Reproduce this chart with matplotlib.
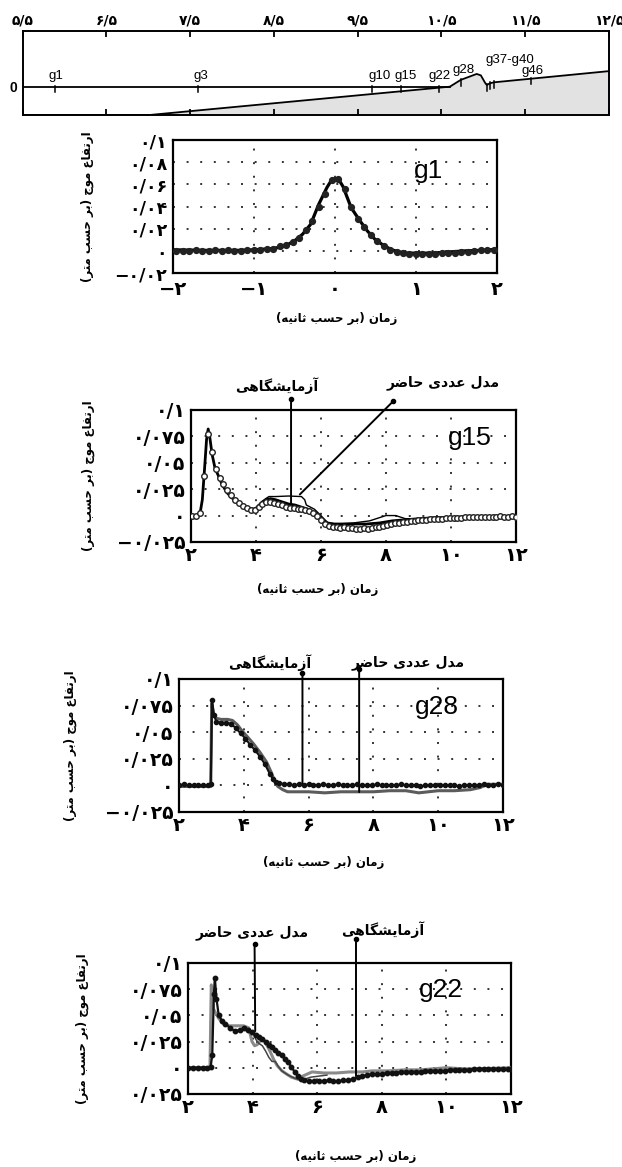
import numpy as np
import matplotlib
matplotlib.use('Agg')
import matplotlib.pyplot as plt

# --- profile (top strip) ---
prof_ticks = [5.5, 6.5, 7.5, 8.5, 9.5, 10.5, 11.5, 12.5]
prof_labels = ['۵/۵', '۶/۵', '۷/۵', '۸/۵', '۹/۵', '۱۰/۵', '۱۱/۵', '۱۲/۵']
bathy_x = [5.5, 7.02, 10.6, 10.73, 10.92, 10.97, 11.02, 11.04, 11.08, 11.13, 12.5]
bathy_y = [-1.0, -1.0, 0.0, 0.24, 0.45, 0.40, 0.14, 0.06, 0.12, 0.155, 0.55]
gauge_x = [5.885, 7.59, 9.67, 10.02, 10.47, 10.73, 11.04, 11.08, 11.13, 11.57]
gauge_names = ['g1', 'g3', 'g10', 'g15', 'g22', 'g28', 'g37-g40', 'g46']
gauge_label_x = [5.9, 7.63, 9.76, 10.07, 10.48, 10.76, 11.32, 11.59]
gauge_label_y = [0.38, 0.38, 0.38, 0.38, 0.38, 0.59, 0.96, 0.57]

# --- g1 ---
g1_model = [(-2.0, 0.001), (-1.6, 0.0005), (-1.2, 0.0005), (-1.0, 0.001), (-0.8, 0.002),
            (-0.7, 0.003), (-0.6, 0.005), (-0.5, 0.009), (-0.4, 0.015), (-0.3, 0.024),
            (-0.2, 0.042), (-0.1, 0.057), (-0.05, 0.063), (0.0, 0.065), (0.05, 0.064),
            (0.1, 0.058), (0.2, 0.039), (0.3, 0.028), (0.4, 0.018), (0.5, 0.010),
            (0.6, 0.005), (0.7, 0.001), (0.8, -0.001), (0.9, -0.002), (1.0, -0.002),
            (1.2, -0.002), (1.4, -0.001), (1.6, 0.0), (1.8, 0.0005), (2.0, 0.0015)]
g1_lab = [(-1.96, 0.000), (-1.88, 0.000), (-1.80, 0.000), (-1.72, 0.001), (-1.64, 0.000),
          (-1.56, 0.000), (-1.48, 0.001), (-1.40, 0.000), (-1.32, 0.001), (-1.24, 0.000),
          (-1.16, 0.000), (-1.08, 0.001), (-1.00, 0.001), (-0.92, 0.001), (-0.84, 0.002),
          (-0.76, 0.002), (-0.68, 0.004), (-0.60, 0.005), (-0.52, 0.008), (-0.44, 0.012),
          (-0.36, 0.019), (-0.28, 0.027), (-0.20, 0.040), (-0.12, 0.051), (-0.04, 0.064),
          (0.04, 0.065), (0.12, 0.056), (0.20, 0.040), (0.28, 0.029), (0.36, 0.022),
          (0.44, 0.014), (0.52, 0.009), (0.60, 0.004), (0.68, 0.001), (0.76, -0.001),
          (0.84, -0.002), (0.92, -0.003), (1.00, -0.003), (1.08, -0.003), (1.16, -0.003),
          (1.24, -0.003), (1.32, -0.002), (1.40, -0.002), (1.48, -0.002), (1.56, -0.001),
          (1.64, -0.001), (1.72, 0.000), (1.80, 0.001), (1.88, 0.001), (1.96, 0.001)]

# --- g15 ---
g15_thick = [(2.0, 0.0), (2.2, 0.0), (2.28, 0.002), (2.35, 0.015), (2.42, 0.045), (2.48, 0.072),
             (2.53, 0.082), (2.58, 0.074), (2.65, 0.058), (2.74, 0.045), (2.84, 0.038),
             (2.95, 0.030), (3.1, 0.022), (3.25, 0.017), (3.45, 0.012), (3.66, 0.008),
             (3.8, 0.007), (3.92, 0.006), (4.0, 0.007), (4.1, 0.010), (4.2, 0.013),
             (4.3, 0.015), (4.45, 0.016), (4.6, 0.015), (4.8, 0.013), (5.0, 0.011),
             (5.2, 0.010), (5.4, 0.008), (5.6, 0.006), (5.8, 0.003), (6.0, -0.002),
             (6.2, -0.007), (6.4, -0.008), (6.7, -0.008), (7.0, -0.008), (7.4, -0.008),
             (7.8, -0.007), (8.2, -0.005), (8.6, -0.004), (9.0, -0.003), (9.5, -0.002),
             (10.0, -0.002), (10.5, -0.001), (11.0, -0.001), (11.5, -0.001), (12.0, -0.001)]
g15_model = [(3.92, 0.006), (4.0, 0.007), (4.1, 0.010), (4.2, 0.013), (4.3, 0.016), (4.4, 0.018),
             (4.6, 0.018), (5.0, 0.0185), (5.4, 0.018), (5.5, 0.015), (5.55, 0.010),
             (5.8, 0.006), (6.0, 0.0), (6.2, -0.007), (6.5, -0.008), (7.0, -0.007),
             (7.5, -0.005), (7.8, -0.002), (8.0, 0.0), (8.3, 0.0), (8.6, -0.003),
             (9.0, -0.003), (9.5, -0.002), (10.0, -0.001), (11.0, -0.001), (12.0, 0.0)]
g15_lab = [(2.04, 0.000), (2.16, 0.000), (2.28, 0.002), (2.40, 0.037), (2.52, 0.077), (2.64, 0.060),
           (2.76, 0.044), (2.88, 0.036), (3.00, 0.030), (3.12, 0.024), (3.24, 0.019), (3.36, 0.015),
           (3.48, 0.012), (3.60, 0.009), (3.72, 0.007), (3.84, 0.005), (3.96, 0.005), (4.08, 0.008),
           (4.20, 0.011), (4.32, 0.013), (4.44, 0.013), (4.56, 0.012), (4.68, 0.011), (4.80, 0.010),
           (4.92, 0.008), (5.04, 0.007), (5.16, 0.007), (5.28, 0.006), (5.40, 0.006), (5.52, 0.005),
           (5.64, 0.004), (5.76, 0.002), (5.88, 0.000), (6.00, -0.004), (6.12, -0.008), (6.24, -0.010),
           (6.36, -0.011), (6.48, -0.011), (6.60, -0.012), (6.72, -0.011), (6.84, -0.012), (6.96, -0.012),
           (7.08, -0.013), (7.20, -0.013), (7.32, -0.012), (7.44, -0.013), (7.56, -0.012), (7.68, -0.011),
           (7.80, -0.011), (7.92, -0.010), (8.04, -0.009), (8.16, -0.008), (8.28, -0.007), (8.40, -0.007),
           (8.52, -0.006), (8.64, -0.006), (8.76, -0.005), (8.88, -0.005), (9.00, -0.004), (9.12, -0.004),
           (9.24, -0.004), (9.36, -0.003), (9.48, -0.003), (9.60, -0.003), (9.72, -0.003), (9.84, -0.002),
           (9.96, -0.002), (10.08, -0.002), (10.20, -0.002), (10.32, -0.002), (10.44, -0.001), (10.56, -0.001),
           (10.68, -0.001), (10.80, -0.001), (10.92, -0.001), (11.04, -0.001), (11.16, -0.001), (11.28, -0.001),
           (11.40, -0.001), (11.52, 0.000), (11.64, -0.001), (11.76, -0.001), (11.88, 0.000), (12.00, -0.001)]

# --- g28 ---
g28_lab = [(2.0, 0.000), (2.15, 0.001), (2.3, 0.000), (2.45, 0.000), (2.6, 0.000), (2.75, 0.000),
           (2.9, 0.000), (2.98, 0.001), (3.02, 0.080), (3.08, 0.066), (3.15, 0.060), (3.3, 0.059),
           (3.45, 0.059), (3.6, 0.058), (3.75, 0.054), (3.9, 0.049), (4.05, 0.044), (4.2, 0.038),
           (4.35, 0.033), (4.5, 0.027), (4.65, 0.020), (4.8, 0.011), (4.9, 0.006), (5.0, 0.003),
           (5.1, 0.002), (5.25, 0.001), (5.4, 0.001), (5.55, 0.000), (5.7, 0.001), (5.85, 0.000),
           (6.0, 0.001), (6.15, 0.000), (6.3, 0.000), (6.45, 0.001), (6.6, 0.000), (6.75, 0.000),
           (6.9, 0.001), (7.05, 0.000), (7.2, 0.000), (7.35, 0.000), (7.5, 0.001), (7.65, 0.000),
           (7.8, 0.000), (7.95, 0.000), (8.1, 0.001), (8.25, 0.000), (8.4, 0.000), (8.55, 0.000),
           (8.7, 0.000), (8.85, 0.001), (9.0, 0.000), (9.15, 0.000), (9.3, 0.000), (9.45, -0.001),
           (9.6, 0.000), (9.75, 0.000), (9.9, 0.000), (10.05, 0.000), (10.2, 0.000), (10.35, 0.000),
           (10.5, 0.000), (10.65, -0.001), (10.8, 0.000), (10.95, 0.000), (11.1, 0.000), (11.25, 0.000),
           (11.4, 0.001), (11.55, 0.000), (11.7, 0.000), (11.85, 0.001), (12.0, 0.000)]
g28_model = [(2.0, -0.001), (2.5, -0.001), (2.98, -0.001), (3.01, 0.077), (3.07, 0.066), (3.15, 0.063),
             (3.3, 0.062), (3.5, 0.062), (3.65, 0.061), (3.8, 0.057), (3.95, 0.051), (4.1, 0.046),
             (4.3, 0.039), (4.5, 0.031), (4.7, 0.022), (4.85, 0.012), (4.95, 0.004), (5.05, -0.001),
             (5.2, -0.004), (5.35, -0.006), (5.6, -0.006), (6.0, -0.006), (6.5, -0.007), (7.0, -0.006),
             (7.5, -0.006), (8.0, -0.006), (8.5, -0.005), (9.0, -0.005), (9.4, -0.007), (9.7, -0.006),
             (10.0, -0.005), (10.5, -0.005), (11.0, -0.004), (11.3, -0.002), (11.5, 0.001), (12.0, 0.001)]

# --- g22 ---
g22_lab = [(2.0, 0.000), (2.15, 0.000), (2.3, 0.000), (2.45, 0.000), (2.6, 0.000), (2.7, 0.001),
           (2.75, 0.012), (2.8, 0.070), (2.83, 0.086), (2.88, 0.066), (2.95, 0.050), (3.05, 0.045),
           (3.15, 0.042), (3.3, 0.038), (3.45, 0.035), (3.6, 0.036), (3.72, 0.038), (3.85, 0.036),
           (3.98, 0.034), (4.1, 0.031), (4.2, 0.029), (4.3, 0.027), (4.4, 0.025), (4.5, 0.022),
           (4.6, 0.020), (4.7, 0.017), (4.8, 0.014), (4.9, 0.012), (5.0, 0.008), (5.1, 0.005),
           (5.2, 0.001), (5.3, -0.004), (5.4, -0.008), (5.5, -0.011), (5.6, -0.012), (5.75, -0.013),
           (5.9, -0.013), (6.05, -0.013), (6.2, -0.013), (6.35, -0.012), (6.5, -0.013), (6.65, -0.013),
           (6.8, -0.012), (6.95, -0.012), (7.1, -0.011), (7.25, -0.009), (7.4, -0.008), (7.55, -0.007),
           (7.7, -0.006), (7.85, -0.006), (8.0, -0.006), (8.15, -0.005), (8.3, -0.005), (8.45, -0.005),
           (8.6, -0.004), (8.75, -0.004), (8.9, -0.004), (9.05, -0.004), (9.2, -0.004), (9.35, -0.003),
           (9.5, -0.003), (9.65, -0.003), (9.8, -0.003), (9.95, -0.003), (10.1, -0.002), (10.25, -0.002),
           (10.4, -0.002), (10.55, -0.002), (10.7, -0.002), (10.85, -0.001), (11.0, -0.001), (11.15, -0.001),
           (11.3, -0.001), (11.45, -0.001), (11.6, -0.001), (11.75, -0.001), (11.9, -0.001), (12.0, -0.001)]
g22_model = [(2.0, 0.0), (2.68, 0.0), (2.72, 0.079), (2.79, 0.056), (2.95, 0.047), (3.1, 0.042),
             (3.26, 0.040), (3.5, 0.040), (3.72, 0.040), (3.88, 0.038), (3.98, 0.025), (4.06, 0.021),
             (4.14, 0.022), (4.25, 0.026), (4.34, 0.027), (4.45, 0.021), (4.55, 0.015), (4.65, 0.008),
             (4.76, 0.002), (4.91, -0.003), (5.05, -0.006), (5.2, -0.009), (5.4, -0.011), (5.55, -0.008),
             (5.84, -0.004), (6.2, -0.005), (6.6, -0.005), (7.0, -0.004), (7.4, -0.004), (7.7, -0.003),
             (8.2, -0.003), (8.7, -0.002), (9.2, -0.002), (9.6, -0.001), (10.0, 0.000), (10.5, -0.001),
             (11.0, -0.001), (12.0, 0.0)]
g22_other = [(3.88, 0.037), (4.0, 0.033), (4.1, 0.027), (4.2, 0.023), (4.3, 0.021), (4.4, 0.016),
             (4.5, 0.010), (4.6, 0.006), (4.7, 0.006), (4.8, 0.001), (4.9, -0.003), (5.1, -0.007),
             (5.3, -0.010), (5.5, -0.012), (5.8, -0.009), (6.3, -0.007)]

x_ticks = [2, 4, 6, 8, 10, 12]
x_labels = ['۲', '۴', '۶', '۸', '۱۰', '۱۲']
g1_xticks = [-2, -1, 0, 1, 2]
g1_xlabels = ['−۲', '−۱', '۰', '۱', '۲']
g1_yticks = [-0.02, 0, 0.02, 0.04, 0.06, 0.08, 0.1]
g1_ylabels = ['−۰/۰۲', '۰', '۰/۰۲', '۰/۰۴', '۰/۰۶', '۰/۰۸', '۰/۱']
y_ticks = [-0.025, 0, 0.025, 0.05, 0.075, 0.1]
y_labels = ['−۰/۰۲۵', '۰', '۰/۰۲۵', '۰/۰۵', '۰/۰۷۵', '۰/۱']
g22_ylabels = ['۰/۰۲۵', '۰', '۰/۰۲۵', '۰/۰۵', '۰/۰۷۵', '۰/۱']

xlabel_txt = 'زمان (بر حسب ثانیه)'
ylabel_txt = 'ارتفاع موج (بر حسب متر)'
lab_txt = 'آزمایشگاهی'
model_txt = 'مدل عددی حاضر'

FA = 'DejaVu Sans'
LAT = 'Liberation Sans'

# contextual forms: isolated, final, initial, medial
FORMS = {
    'ا': (0xFE8D, 0xFE8E, None, None), 'آ': (0xFE81, 0xFE82, None, None),
    'ب': (0xFE8F, 0xFE90, 0xFE91, 0xFE92), 'ت': (0xFE95, 0xFE96, 0xFE97, 0xFE98),
    'ث': (0xFE99, 0xFE9A, 0xFE9B, 0xFE9C), 'ج': (0xFE9D, 0xFE9E, 0xFE9F, 0xFEA0),
    'ح': (0xFEA1, 0xFEA2, 0xFEA3, 0xFEA4), 'د': (0xFEA9, 0xFEAA, None, None),
    'ر': (0xFEAD, 0xFEAE, None, None), 'ز': (0xFEAF, 0xFEB0, None, None),
    'س': (0xFEB1, 0xFEB2, 0xFEB3, 0xFEB4), 'ش': (0xFEB5, 0xFEB6, 0xFEB7, 0xFEB8),
    'ض': (0xFEBD, 0xFEBE, 0xFEBF, 0xFEC0), 'ع': (0xFEC9, 0xFECA, 0xFECB, 0xFECC),
    'ف': (0xFED1, 0xFED2, 0xFED3, 0xFED4), 'ل': (0xFEDD, 0xFEDE, 0xFEDF, 0xFEE0),
    'م': (0xFEE1, 0xFEE2, 0xFEE3, 0xFEE4), 'ن': (0xFEE5, 0xFEE6, 0xFEE7, 0xFEE8),
    'ه': (0xFEE9, 0xFEEA, 0xFEEB, 0xFEEC), 'و': (0xFEED, 0xFEEE, None, None),
    'ی': (0xFBFC, 0xFBFD, 0xFBFE, 0xFBFF), 'گ': (0xFB92, 0xFB93, 0xFB94, 0xFB95),
}


def shape(text):
    out = []
    for i, c in enumerate(text):
        if c not in FORMS:
            out.append(c)
            continue
        iso, fin, ini, med = FORMS[c]
        prev = text[i - 1] if i > 0 else ''
        nxt = text[i + 1] if i + 1 < len(text) else ''
        jp = prev in FORMS and FORMS[prev][2] is not None
        jn = ini is not None and nxt in FORMS
        if jp and jn:
            g = med
        elif jp:
            g = fin
        elif jn:
            g = ini
        else:
            g = iso
        out.append(chr(g))
    vis = ''.join(reversed(out))
    return vis.translate(str.maketrans('()', ')('))


def unzip(pairs):
    return [p[0] for p in pairs], [p[1] for p in pairs]


fig = plt.figure(figsize=(6.22, 11.67), dpi=100)

# ---------- profile ----------
ax0 = fig.add_axes([0.0365, 0.9015, 0.9426, 0.0722])
ax0.fill_between(bathy_x, bathy_y, -1, color='#e2e2e2', lw=0)
ax0.plot(bathy_x, bathy_y, color='k', lw=1.3)
ax0.plot([5.5, 10.6], [0, 0], color='k', lw=1.3)
for gx in gauge_x:
    yb = max(0.0, float(np.interp(gx, bathy_x, bathy_y)))
    ax0.plot([gx, gx], [yb + 0.04, yb - 0.2], color='k', lw=1.1)
for name, lx, ly in zip(gauge_names, gauge_label_x, gauge_label_y):
    ax0.text(lx, ly, name, ha='center', va='center', fontsize=9.5, family=LAT)
ax0.set_xlim(5.5, 12.5)
ax0.set_ylim(-1, 1.98)
ax0.set_xticks(prof_ticks)
ax0.set_xticklabels(prof_labels, family=FA, fontweight='bold', fontsize=10)
ax0.xaxis.tick_top()
ax0.tick_params(axis='x', which='both', direction='in', length=4, width=1.3,
                top=True, bottom=True, pad=2)
ax0.set_yticks([0])
ax0.set_yticklabels(['0'], family=LAT, fontweight='bold', fontsize=10)
ax0.tick_params(axis='y', length=0, pad=4)
for s in ax0.spines.values():
    s.set_linewidth(1.4)


def panel(rect, xlim, ylim, xt, xl, yt, yl, xlab_pos, ylab_pos, ysize=13.5, xpad=3):
    ax = fig.add_axes(rect)
    ax.set_xlim(xlim)
    ax.set_ylim(ylim)
    ax.set_xticks(xt)
    ax.set_xticklabels(xl, family=FA, fontweight='bold', fontsize=14)
    ax.set_yticks(yt)
    ax.set_yticklabels(yl, family=FA, fontweight='bold', fontsize=ysize)
    ax.tick_params(length=0)
    ax.tick_params(axis='x', pad=xpad)
    ax.tick_params(axis='y', pad=4)
    ax.grid(True, linestyle=(0, (1, 6)), color='#333333', lw=1.4)
    for s in ax.spines.values():
        s.set_linewidth(1.6)
    ax.set_xlabel(shape(xlabel_txt), family=FA, fontweight='bold', fontsize=8.5,
                  va='center', ha='center')
    ax.xaxis.set_label_coords(*xlab_pos)
    ax.set_ylabel(shape(ylabel_txt), family=FA, fontweight='bold', fontsize=8.5,
                  va='center', ha='center')
    ax.yaxis.set_label_coords(*ylab_pos)
    return ax


def pointer(ax, top, tip, text, text_pos):
    ax.annotate('', xy=tip, xytext=top, xycoords='data',
                arrowprops=dict(arrowstyle='-', lw=1.4, color='k', shrinkA=0, shrinkB=0),
                annotation_clip=False)
    ax.plot([top[0]], [top[1]], 'o', ms=3, color='k', clip_on=False)
    ax.text(text_pos[0], text_pos[1], shape(text), ha='center', va='center',
            family=FA, fontweight='bold', fontsize=10, clip_on=False)


# ---------- g1 ----------
ax1 = panel([0.278, 0.766, 0.521, 0.114], (-2, 2), (-0.02, 0.1),
            g1_xticks, g1_xlabels, g1_yticks, g1_ylabels, (0.506, -0.338), (-0.265, 0.5),
            ysize=12.5, xpad=5)
t, y = unzip(g1_model)
ax1.plot(t, y, color='k', lw=2.3, zorder=3)
t, y = unzip(g1_lab)
ax1.plot(t, y, 'o', ms=4.2, color='#222222', zorder=4)
ax1.text(1.16, 0.072, 'g1', ha='center', va='center', fontsize=19, family=LAT)

# ---------- g15 ----------
ax2 = panel([0.307, 0.5356, 0.5225, 0.1131], (2, 12), (-0.025, 0.1),
            x_ticks, x_labels, y_ticks, y_labels, (0.39, -0.364), (-0.317, 0.5))
t, y = unzip(g15_thick)
ax2.plot(t, y, color='k', lw=2.0, zorder=3)
t, y = unzip(g15_model)
ax2.plot(t, y, color='k', lw=1.0, zorder=3)
t, y = unzip(g15_lab)
ax2.plot(t, y, 'o', ms=4, mfc='white', mec='#222222', mew=1.0, zorder=4)
ax2.text(10.58, 0.0734, 'g15', ha='center', va='center', fontsize=19, family=LAT)
pointer(ax2, (5.08, 0.1106), (5.08, 0.008), lab_txt, (4.65, 0.1228))
pointer(ax2, (8.23, 0.1085), (5.35, 0.020), model_txt, (9.75, 0.1257))

# ---------- g28 ----------
ax3 = panel([0.2878, 0.3042, 0.5209, 0.114], (2, 12), (-0.025, 0.1),
            x_ticks, x_labels, y_ticks, y_labels, (0.447, -0.376), (-0.336, 0.5))
t, y = unzip(g28_model)
ax3.plot(t, y, color='#5c5c5c', lw=2.2, zorder=3)
t, y = unzip(g28_lab)
ax3.plot(t, y, '-o', ms=3, lw=1.5, color='#111111', zorder=4)
ax3.text(9.95, 0.074, 'g28', ha='center', va='center', fontsize=19, family=LAT)
pointer(ax3, (5.81, 0.106), (5.81, 0.0), lab_txt, (4.8, 0.1153))
pointer(ax3, (7.56, 0.109), (7.56, -0.0063), model_txt, (9.06, 0.1153))

# ---------- g22 ----------
ax4 = panel([0.3023, 0.0626, 0.5193, 0.1123], (2, 12), (-0.025, 0.1),
            x_ticks, x_labels, y_ticks, g22_ylabels, (0.52, -0.48), (-0.328, 0.5))
t, y = unzip(g22_model)
ax4.plot(t, y, color='#8a8a8a', lw=2.2, zorder=3)
t, y = unzip(g22_other)
ax4.plot(t, y, color='#444444', lw=1.1, zorder=3)
t, y = unzip(g22_lab)
ax4.plot(t, y, '-o', ms=3.2, lw=1.6, color='#111111', zorder=4)
ax4.text(9.84, 0.0744, 'g22', ha='center', va='center', fontsize=19, family=LAT)
pointer(ax4, (4.06, 0.1178), (4.08, 0.035), model_txt, (3.99, 0.1285))
pointer(ax4, (7.2, 0.1225), (7.2, -0.008), lab_txt, (8.02, 0.132))

fig.savefig('out.png', dpi=100)
